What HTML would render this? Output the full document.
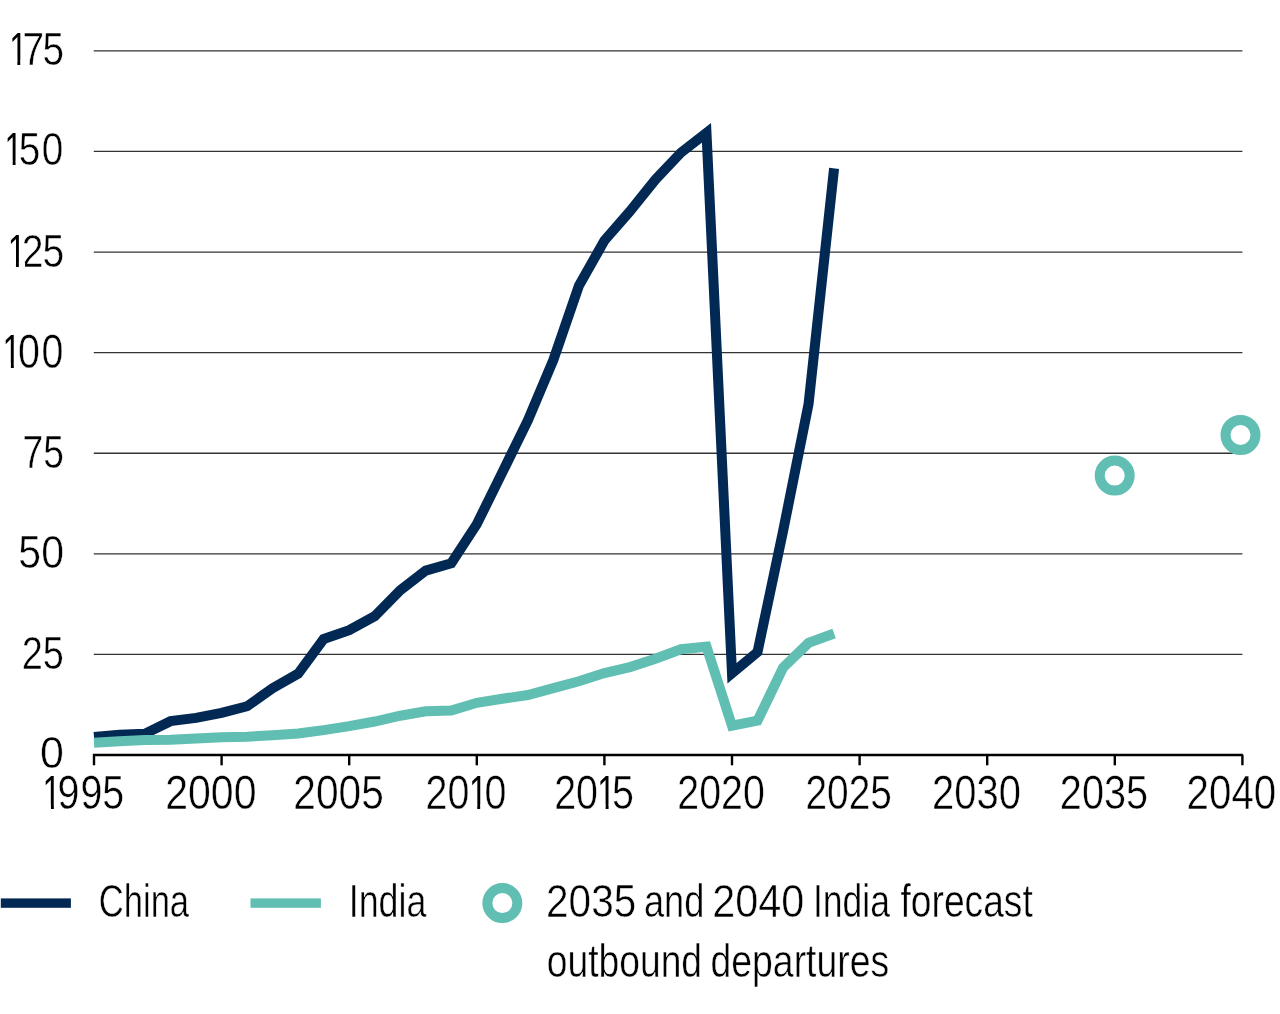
<!DOCTYPE html>
<html><head><meta charset="utf-8"><title>Outbound departures: China and India</title>
<style>html,body{margin:0;padding:0;background:#fff;width:1280px;height:1014px;overflow:hidden}svg{display:block;will-change:transform}</style>
</head><body>
<svg width="1280" height="1014" viewBox="0 0 1280 1014">
<rect width="1280" height="1014" fill="#fff"/>
<g stroke="#333" stroke-width="1.3"><line x1="93.8" x2="1242.4" y1="654.47" y2="654.47"/><line x1="93.8" x2="1242.4" y1="553.87" y2="553.87"/><line x1="93.8" x2="1242.4" y1="453.27" y2="453.27"/><line x1="93.8" x2="1242.4" y1="352.67" y2="352.67"/><line x1="93.8" x2="1242.4" y1="252.07" y2="252.07"/><line x1="93.8" x2="1242.4" y1="151.47" y2="151.47"/><line x1="93.8" x2="1242.4" y1="50.87" y2="50.87"/></g>
<g fill="#000" stroke="#fff" stroke-width="0.5" font-family="'Liberation Sans', Arial, sans-serif">
<text transform="translate(0 64.93) scale(0.8300 1)" font-size="46.74"><tspan x="11.04" textLength="21.83" lengthAdjust="spacingAndGlyphs" stroke="none">1</tspan><tspan x="27.15 51.25">75</tspan></text><text transform="translate(0 165.28) scale(0.8300 1)" font-size="46.64"><tspan x="5.40" textLength="21.79" lengthAdjust="spacingAndGlyphs" stroke="none">1</tspan><tspan x="22.60 50.25">50</tspan></text><text transform="translate(0 266.93) scale(0.8300 1)" font-size="47.07"><tspan x="9.27" textLength="21.99" lengthAdjust="spacingAndGlyphs" stroke="none">1</tspan><tspan x="26.16 51.16">25</tspan></text><text transform="translate(0 367.73) scale(0.8300 1)" font-size="47.49"><tspan x="3.09" textLength="22.19" lengthAdjust="spacingAndGlyphs" stroke="none">1</tspan><tspan x="21.64 50.01">00</tspan></text><text transform="translate(22.44 467.73) scale(0.7921 1)" font-size="47.03">75</text><text transform="translate(18.36 568.24) scale(0.8837 1)" font-size="46.36">50</text><text transform="translate(21.70 669.04) scale(0.8184 1)" font-size="46.36">25</text><text transform="translate(40.08 768.25) scale(0.9492 1)" font-size="45.23">0</text><text transform="translate(0 809.13) scale(0.8300 1)" font-size="47.49"><tspan x="51.34" textLength="22.19" lengthAdjust="spacingAndGlyphs" stroke="none">1</tspan><tspan x="69.17 96.94 123.33">995</tspan></text><text transform="translate(165.25 809.13) scale(0.8640 1)" font-size="47.49">2000</text><text transform="translate(293.37 809.13) scale(0.8561 1)" font-size="47.49">2005</text><text transform="translate(0 809.13) scale(0.8300 1)" font-size="47.49"><tspan x="512.72 539.11">20</tspan><tspan x="564.95" textLength="22.19" lengthAdjust="spacingAndGlyphs" stroke="none">1</tspan><tspan x="583.75">0</tspan></text><text transform="translate(0 809.13) scale(0.8300 1)" font-size="47.49"><tspan x="667.66 694.05">20</tspan><tspan x="719.65" textLength="22.19" lengthAdjust="spacingAndGlyphs" stroke="none">1</tspan><tspan x="737.36">5</tspan></text><text transform="translate(677.33 809.13) scale(0.8285 1)" font-size="47.49">2020</text><text transform="translate(805.46 809.13) scale(0.8176 1)" font-size="47.49">2025</text><text transform="translate(932.10 809.13) scale(0.8413 1)" font-size="47.49">2030</text><text transform="translate(1059.82 809.13) scale(0.8354 1)" font-size="47.49">2035</text><text transform="translate(1186.59 809.13) scale(0.8482 1)" font-size="47.49">2040</text>
<text transform="translate(98.77 916.90) scale(0.7582 1)" font-size="45.60">China</text><text transform="translate(348.69 917.00) scale(0.7852 1)" font-size="45.60">India</text><text transform="translate(546.07 917.00) scale(0.8885 1)" font-size="45.60">2035</text><text transform="translate(643.96 917.00) scale(0.7944 1)" font-size="45.60">and</text><text transform="translate(712.13 917.00) scale(0.9080 1)" font-size="45.60">2040</text><text transform="translate(812.91 917.00) scale(0.7789 1)" font-size="45.60">India</text><text transform="translate(900.54 917.00) scale(0.8152 1)" font-size="45.60">forecast</text><text transform="translate(546.82 976.70) scale(0.8162 1)" font-size="45.60">outbound</text><text transform="translate(710.51 976.70) scale(0.8198 1)" font-size="45.60">departures</text>
</g>
<g fill="#fff"><rect x="10.35" y="60.44" width="7.01" height="5.29"/><rect x="20.24" y="60.44" width="6.15" height="5.29"/><rect x="5.67" y="160.80" width="7.00" height="5.28"/><rect x="15.54" y="160.80" width="6.14" height="5.28"/><rect x="8.90" y="262.41" width="7.05" height="5.32"/><rect x="18.85" y="262.41" width="6.19" height="5.32"/><rect x="3.79" y="363.18" width="7.10" height="5.35"/><rect x="13.81" y="363.18" width="6.24" height="5.35"/><rect x="43.84" y="804.58" width="7.10" height="5.35"/><rect x="53.86" y="804.58" width="6.24" height="5.35"/><rect x="470.14" y="804.58" width="7.10" height="5.35"/><rect x="480.16" y="804.58" width="6.24" height="5.35"/><rect x="598.54" y="804.58" width="7.10" height="5.35"/><rect x="608.56" y="804.58" width="6.24" height="5.35"/></g>
<g stroke="#000" stroke-width="2.4" stroke-linecap="butt">
<polyline fill="none" stroke-linejoin="miter" points="94.00,765.3 94.00,755.07 600,755.07"/>
<polyline fill="none" stroke-linejoin="bevel" points="600,755.07 1242.40,755.07 1242.40,765.3"/>
<line x1="221.60" x2="221.60" y1="755.07" y2="765.3"/><line x1="349.20" x2="349.20" y1="755.07" y2="765.3"/><line x1="476.80" x2="476.80" y1="755.07" y2="765.3"/><line x1="604.40" x2="604.40" y1="755.07" y2="765.3"/><line x1="732.00" x2="732.00" y1="755.07" y2="765.3"/><line x1="859.60" x2="859.60" y1="755.07" y2="765.3"/><line x1="987.20" x2="987.20" y1="755.07" y2="765.3"/><line x1="1114.80" x2="1114.80" y1="755.07" y2="765.3"/>
</g>
<polyline points="94.00,736.88 119.52,734.71 145.04,733.66 170.56,721.15 196.08,717.93 221.60,712.94 247.12,706.26 272.64,688.27 298.16,673.70 323.68,638.98 349.20,630.21 374.72,616.16 400.24,590.29 425.76,570.61 451.28,563.29 476.80,524.13 502.32,472.38 527.84,420.35 553.36,359.95 578.88,285.91 604.40,240.56 629.92,211.31 655.44,179.52 680.96,152.60 706.48,132.84 732.00,673.25 757.52,651.98 783.04,531.34 808.56,403.98 834.08,168.37" fill="none" stroke="#022854" stroke-width="10" stroke-linejoin="miter" stroke-miterlimit="10"/>
<polyline points="94.00,742.76 119.52,741.15 145.04,740.06 170.56,739.74 196.08,738.53 221.60,737.28 247.12,736.72 272.64,735.19 298.16,733.54 323.68,730.08 349.20,726.18 374.72,721.51 400.24,715.72 425.76,711.33 451.28,710.52 476.80,702.80 502.32,698.77 527.84,695.03 553.36,688.15 578.88,681.31 604.40,673.06 629.92,667.07 655.44,658.74 680.96,649.24 706.48,646.74 732.00,725.74 757.52,720.66 783.04,667.75 808.56,642.84 834.08,633.55" fill="none" stroke="#61BEB2" stroke-width="10" stroke-linejoin="miter" stroke-miterlimit="10"/>
<circle cx="1114.7" cy="475.6" r="15" fill="none" stroke="#61BEB2" stroke-width="10"/>
<circle cx="1240.5" cy="435" r="15" fill="none" stroke="#61BEB2" stroke-width="10"/>
<rect x="0.8" y="898.4" width="70.1" height="9.4" fill="#022854"/>
<rect x="250.5" y="898.4" width="70.4" height="9.4" fill="#61BEB2"/>
<circle cx="502.35" cy="903.1" r="15" fill="none" stroke="#61BEB2" stroke-width="10"/>
</svg>
</body></html>
